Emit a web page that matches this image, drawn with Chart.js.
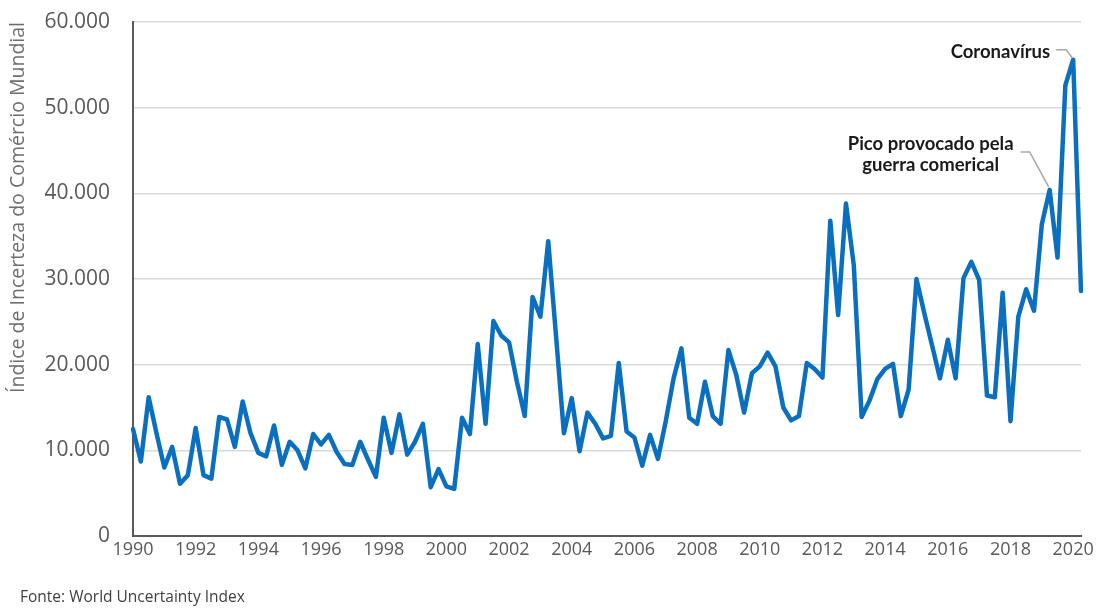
<!DOCTYPE html>
<html>
<head>
<meta charset="utf-8">
<script src="https://cdn.jsdelivr.net/npm/chart.js@4.4.1/dist/chart.umd.min.js"></script>
<style>
  html, body { margin: 0; padding: 0; background: #ffffff; }
  #wrap { width: 1102px; height: 608px; position: relative; }
</style>
</head>
<body>
<div id="wrap"><canvas id="myChart" width="1102" height="608"></canvas></div>
<script>
// quarterly index, 1990 T1 .. 2020 T2
const firstYear = 1990;
const lastYear = 2020;

const uncertainty = [
  12.5, 8.7, 16.2, 12.0, 8.0, 10.4, 6.1, 7.1,        // 1990-1991
  12.6, 7.1, 6.7, 13.9, 13.6, 10.4, 15.7, 12.0,      // 1992-1993
  9.7, 9.3, 12.9, 8.3, 11.0, 10.0, 7.9, 11.9,        // 1994-1995
  10.7, 11.8, 9.8, 8.4, 8.3, 11.0, 8.9, 6.9,         // 1996-1997
  13.8, 9.7, 14.2, 9.5, 11.0, 13.1, 5.7, 7.8,        // 1998-1999
  5.8, 5.5, 13.8, 11.9, 22.4, 13.1, 25.1, 23.4,      // 2000-2001
  22.6, 18.0, 14.0, 27.9, 25.6, 34.4, 23.3, 12.0,    // 2002-2003
  16.1, 9.9, 14.4, 13.1, 11.4, 11.7, 20.2, 12.2,     // 2004-2005
  11.5, 8.2, 11.8, 9.0, 13.4, 18.4, 21.9, 13.8,      // 2006-2007
  13.1, 18.0, 14.0, 13.1, 21.7, 18.8, 14.4, 19.0,    // 2008-2009
  19.8, 21.4, 19.8, 15.0, 13.5, 14.0, 20.2, 19.5,    // 2010-2011
  18.5, 36.8, 25.8, 38.8, 31.6, 13.9, 15.8, 18.3,    // 2012-2013
  19.5, 20.1, 14.0, 17.1, 30.0, 26.0, 22.2, 18.4,    // 2014-2015
  22.9, 18.4, 30.1, 32.0, 29.9, 16.4, 16.2, 28.4,    // 2016-2017
  13.4, 25.6, 28.8, 26.3, 36.4, 40.4, 32.5, 52.6,    // 2018-2019
  55.6, 28.6                                         // 2020
].map(v => v * 1000);

const yearTicks = ['1990', '1992', '1994', '1996', '1998', '2000', '2002', '2004',
  '2006', '2008', '2010', '2012', '2014', '2016', '2018', '2020'];

// category labels, one per quarter
const quarters = [];
for (let y = firstYear; y <= lastYear; y++) {
  for (let q = 1; q <= 4; q++) {
    if (quarters.length < uncertainty.length) quarters.push(y + ' T' + q);
  }
}

const notes = [
  { index: 117, lines: ['Pico provocado pela', 'guerra comerical'] },
  { index: 120, lines: ['Coronavírus'] }
];

function fmtThousands(v) {
  if (v === 0) return '0';
  const s = String(Math.round(v));
  return s.replace(/\B(?=(\d{3})+(?!\d))/g, '.');
}

// draws the two callouts and the source line
const notesPlugin = {
  id: 'notes',
  afterDatasetsDraw(chart) {
    const ctx = chart.ctx;
    const xs = chart.scales.x;
    const ys = chart.scales.y;
    ctx.save();
    ctx.strokeStyle = '#a6a6a6';
    ctx.lineWidth = 1.5;
    ctx.fillStyle = '#1a1a1a';
    ctx.font = 'bold 18.5px Lato';
    ctx.textBaseline = 'middle';

    // trade war peak
    let px = xs.getPixelForValue(notes[0].index);
    let py = ys.getPixelForValue(uncertainty[notes[0].index]);
    ctx.beginPath();
    ctx.moveTo(px - 29, py - 38);
    ctx.lineTo(px - 20, py - 38);
    ctx.lineTo(px - 1, py - 3);
    ctx.stroke();
    ctx.textAlign = 'center';
    ctx.fillText(notes[0].lines[0], px - 119, py - 46);
    ctx.fillText(notes[0].lines[1], px - 119, py - 25);

    // covid peak
    px = xs.getPixelForValue(notes[1].index);
    py = ys.getPixelForValue(uncertainty[notes[1].index]);
    ctx.beginPath();
    ctx.moveTo(px - 17, py - 10);
    ctx.lineTo(px - 7, py - 10);
    ctx.lineTo(px - 1, py - 2);
    ctx.stroke();
    ctx.textAlign = 'right';
    ctx.fillText(notes[1].lines[0], px - 23, py - 8);

    // source
    ctx.font = '15.5px "Open Sans"';
    ctx.fillStyle = '#404040';
    ctx.textAlign = 'left';
    ctx.fillText('Fonte: World Uncertainty Index', 20, 598);
    ctx.restore();
  }
};

const data = {
  labels: quarters,
  datasets: [{
    label: 'Índice de Incerteza do Comércio Mundial',
    data: uncertainty,
    borderColor: '#0a6fbf',
    backgroundColor: '#0a6fbf',
    borderWidth: 4.5,
    pointRadius: 0,
    tension: 0,
    borderJoinStyle: 'round',
    borderCapStyle: 'round'
  }]
};

const config = {
  type: 'line',
  data: data,
  options: {
    responsive: false,
    animation: false,
    layout: {
      padding: { top: 22, right: 21, bottom: 36, left: 0 }
    },
    plugins: {
      legend: { display: false },
      tooltip: { enabled: false }
    },
    scales: {
      x: {
        type: 'category',
        offset: false,
        grid: { display: false, drawTicks: false },
        border: { display: true, color: '#595959', width: 2 },
        ticks: {
          autoSkip: false,
          maxRotation: 0,
          padding: 3,
          color: '#595959',
          font: { family: 'Open Sans', size: 18 },
          callback: (v, i) => (i % 8 === 0 ? yearTicks[i / 8] : null)
        },
        afterFit: (scale) => { scale.height = 36; }
      },
      y: {
        min: 0,
        max: 60000,
        grid: { color: '#d9d9d9', lineWidth: 1.5, drawTicks: true, tickLength: 20, tickColor: 'rgba(0,0,0,0)' },
        border: { display: true, color: '#595959', width: 2 },
        ticks: {
          stepSize: 10000,
          padding: 3,
          color: '#595959',
          font: { family: 'Open Sans', size: 21 },
          callback: (v) => fmtThousands(v)
        },
        title: {
          display: true,
          text: 'Índice de Incerteza do Comércio Mundial',
          align: 'end',
          color: '#6e6e6e',
          padding: { top: 7, bottom: 0 },
          font: { family: 'Open Sans', size: 19.5 }
        },
        afterFit: (scale) => { scale.width = 133; }
      }
    }
  },
  plugins: [notesPlugin]
};

const myChart = new Chart(document.getElementById('myChart'), config);
</script>
</body>
</html>
